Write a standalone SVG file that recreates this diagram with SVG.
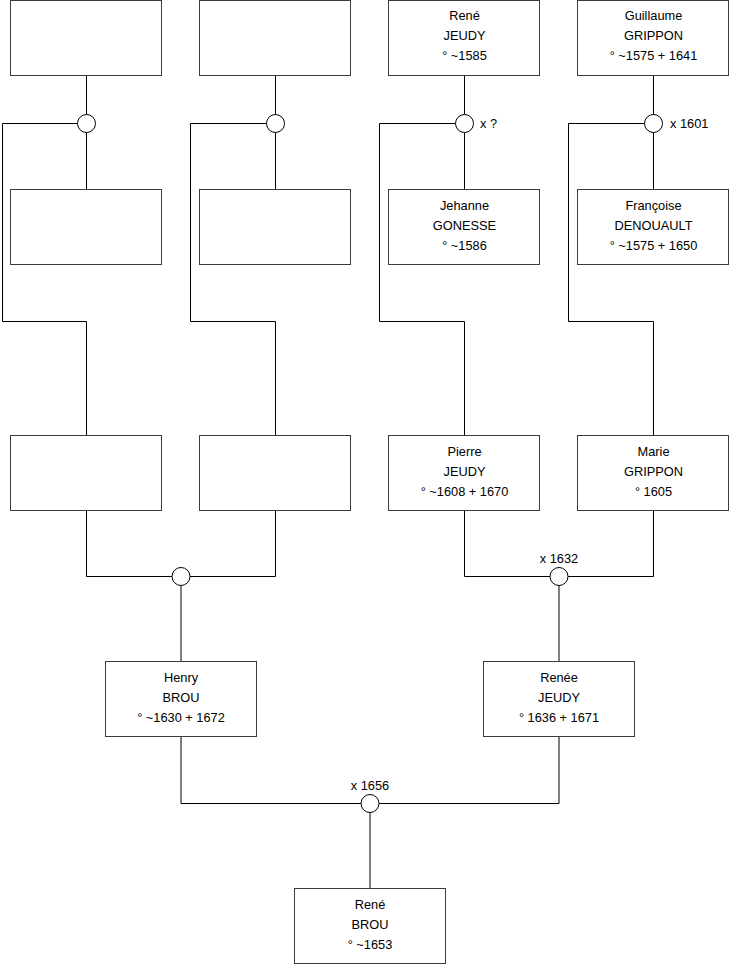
<svg xmlns="http://www.w3.org/2000/svg" width="740" height="975" viewBox="0 0 740 975">
<style>
.box{fill:#fff;stroke:#3c3c3c;stroke-width:1}
.ln{fill:none;stroke:#000;stroke-width:1}
.dot{fill:#fff;stroke:#000;stroke-width:1}
text{font-family:"Liberation Sans",Arial,sans-serif;font-size:12.8px;fill:#000}
.c{text-anchor:middle}
</style>
<rect width="740" height="975" fill="#fff"/>
<g id="connectors">
<path class="ln" d="M86.5 76V189.5M86.5 123.5H2.5V321.5H86.5V435"/>
<path class="ln" d="M275.5 76V189.5M275.5 123.5H190.5V321.5H275.5V435"/>
<path class="ln" d="M464.5 76V189.5M464.5 123.5H379.5V321.5H464.5V435"/>
<path class="ln" d="M653.5 76V189.5M653.5 123.5H568.5V321.5H653.5V435"/>
<path class="ln" d="M86.5 510V576.5H275.5V510M181 576.5V662"/>
<path class="ln" d="M464.5 510V576.5H653.5V510M559 576.5V662"/>
<path class="ln" d="M181 737V803.5H559V737M370 803.5V888"/>
</g>
<g id="m1"><circle class="dot" cx="86.5" cy="123.5" r="9"/></g>
<g id="m2"><circle class="dot" cx="275.5" cy="123.5" r="9"/></g>
<g id="m3"><circle class="dot" cx="464.5" cy="123.5" r="9"/><text x="480" y="128">x ?</text></g>
<g id="m4"><circle class="dot" cx="653.5" cy="123.5" r="9"/><text x="670" y="128">x 1601</text></g>
<g id="m5"><circle class="dot" cx="181" cy="576.5" r="9"/></g>
<g id="m6"><circle class="dot" cx="559" cy="576.5" r="9"/><text class="c" x="559" y="562.5">x 1632</text></g>
<g id="m7"><circle class="dot" cx="370" cy="803.5" r="9"/><text class="c" x="370" y="790">x 1656</text></g>
<g id="n1"><rect class="box" x="10.5" y="0.5" width="151" height="75"/></g>
<g id="n2"><rect class="box" x="199.5" y="0.5" width="151" height="75"/></g>
<g id="n3"><rect class="box" x="388.5" y="0.5" width="151" height="75"/><text class="c" x="464.5" y="19.5">René</text><text class="c" x="464.5" y="39.5">JEUDY</text><text class="c" x="464.5" y="59.5">° ~1585</text></g>
<g id="n4"><rect class="box" x="577.5" y="0.5" width="151" height="75"/><text class="c" x="653.5" y="19.5">Guillaume</text><text class="c" x="653.5" y="39.5">GRIPPON</text><text class="c" x="653.5" y="59.5">° ~1575 + 1641</text></g>
<g id="n5"><rect class="box" x="10.5" y="189.5" width="151" height="75"/></g>
<g id="n6"><rect class="box" x="199.5" y="189.5" width="151" height="75"/></g>
<g id="n7"><rect class="box" x="388.5" y="189.5" width="151" height="75"/><text class="c" x="464.5" y="209.5">Jehanne</text><text class="c" x="464.5" y="229.5">GONESSE</text><text class="c" x="464.5" y="249.5">° ~1586</text></g>
<g id="n8"><rect class="box" x="577.5" y="189.5" width="151" height="75"/><text class="c" x="653.5" y="209.5">Françoise</text><text class="c" x="653.5" y="229.5">DENOUAULT</text><text class="c" x="653.5" y="249.5">° ~1575 + 1650</text></g>
<g id="n9"><rect class="box" x="10.5" y="435.5" width="151" height="75"/></g>
<g id="n10"><rect class="box" x="199.5" y="435.5" width="151" height="75"/></g>
<g id="n11"><rect class="box" x="388.5" y="435.5" width="151" height="75"/><text class="c" x="464.5" y="455.5">Pierre</text><text class="c" x="464.5" y="475.5">JEUDY</text><text class="c" x="464.5" y="495.5">° ~1608 + 1670</text></g>
<g id="n12"><rect class="box" x="577.5" y="435.5" width="151" height="75"/><text class="c" x="653.5" y="455.5">Marie</text><text class="c" x="653.5" y="475.5">GRIPPON</text><text class="c" x="653.5" y="495.5">° 1605</text></g>
<g id="n13"><rect class="box" x="105.5" y="661.5" width="151" height="75"/><text class="c" x="181" y="681.5">Henry</text><text class="c" x="181" y="701.5">BROU</text><text class="c" x="181" y="721.5">° ~1630 + 1672</text></g>
<g id="n14"><rect class="box" x="483.5" y="661.5" width="151" height="75"/><text class="c" x="559" y="681.5">Renée</text><text class="c" x="559" y="701.5">JEUDY</text><text class="c" x="559" y="721.5">° 1636 + 1671</text></g>
<g id="n15"><rect class="box" x="294.5" y="888.5" width="151" height="75"/><text class="c" x="370" y="908.5">René</text><text class="c" x="370" y="928.5">BROU</text><text class="c" x="370" y="948.5">° ~1653</text></g>
</svg>
